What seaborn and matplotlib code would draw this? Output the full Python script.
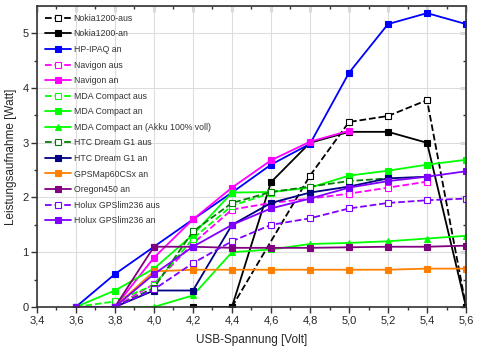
import numpy as np
import matplotlib
matplotlib.use('Agg')
import matplotlib.pyplot as plt
import seaborn as sns

sns.set_style('whitegrid')
plt.rcParams['font.family'] = ['Liberation Sans', 'DejaVu Sans']

# Messwerte: Spannung [V] und Leistungsaufnahme [W]
nokia_aus_x = [4.4, 4.8, 5.0, 5.2, 5.4, 5.6]
nokia_aus_y = [0.0, 2.4, 3.38, 3.49, 3.78, 0.0]
nokia_an_x = [4.2, 4.4, 4.6, 4.8, 5.0, 5.2, 5.4, 5.6]
nokia_an_y = [0.0, 0.0, 2.28, 3.0, 3.2, 3.2, 3.0, 0.0]
ipaq_x = [3.6, 3.8, 4.0, 4.2, 4.4, 4.6, 4.8, 5.0, 5.2, 5.4, 5.6]
ipaq_y = [0.0, 0.6, 1.1, 1.6, 2.09, 2.6, 2.98, 4.28, 5.17, 5.37, 5.17]
navigon_aus_x = [3.8, 4.0, 4.2, 4.4, 4.6, 4.8, 5.0, 5.2, 5.4]
navigon_aus_y = [0.0, 0.42, 1.16, 1.78, 1.9, 1.98, 2.07, 2.18, 2.29]
navigon_an_x = [3.8, 4.0, 4.2, 4.4, 4.6, 4.8, 5.0]
navigon_an_y = [0.0, 0.9, 1.6, 2.18, 2.68, 3.02, 3.22]
mda_aus_x = [3.6, 3.8, 4.0, 4.2, 4.4, 4.6]
mda_aus_y = [0.0, 0.1, 0.4, 1.25, 1.85, 2.08]
mda_an_x = [3.6, 3.8, 4.0, 4.2, 4.4, 4.6, 4.8, 5.0, 5.2, 5.4, 5.6]
mda_an_y = [0.0, 0.3, 0.7, 1.32, 2.09, 2.1, 2.18, 2.4, 2.49, 2.6, 2.69]
mda_akku_x = [3.8, 4.0, 4.2, 4.4, 4.6, 4.8, 5.0, 5.2, 5.4, 5.6]
mda_akku_y = [0.0, 0.0, 0.21, 1.0, 1.05, 1.15, 1.17, 1.2, 1.25, 1.3]
htc_aus_x = [3.8, 4.0, 4.2, 4.4, 4.6, 4.8, 5.0, 5.2]
htc_aus_y = [0.0, 0.35, 1.38, 1.9, 2.1, 2.2, 2.3, 2.35]
htc_an_x = [3.8, 4.0, 4.2, 4.4, 4.6, 4.8, 5.0, 5.2, 5.4]
htc_an_y = [0.0, 0.3, 0.3, 1.5, 1.9, 2.09, 2.2, 2.35, 2.38]
gps_x = [3.8, 4.0, 4.2, 4.4, 4.6, 4.8, 5.0, 5.2, 5.4, 5.6]
gps_y = [0.0, 0.65, 0.68, 0.68, 0.68, 0.68, 0.68, 0.68, 0.7, 0.7]
oregon_x = [3.8, 4.0, 4.2, 4.4, 4.6, 4.8, 5.0, 5.2, 5.4, 5.6]
oregon_y = [0.0, 1.1, 1.1, 1.08, 1.08, 1.08, 1.09, 1.1, 1.1, 1.12]
holux_aus_x = [3.8, 4.0, 4.2, 4.4, 4.6, 4.8, 5.0, 5.2, 5.4, 5.6]
holux_aus_y = [0.0, 0.32, 0.8, 1.2, 1.5, 1.62, 1.8, 1.9, 1.95, 1.98]
holux_an_x = [3.6, 3.8, 4.0, 4.2, 4.4, 4.6, 4.8, 5.0, 5.2, 5.4, 5.6]
holux_an_y = [0.0, 0.0, 0.6, 1.1, 1.5, 1.8, 1.98, 2.18, 2.3, 2.38, 2.48]

x_ticks = [3.4, 3.6, 3.8, 4.0, 4.2, 4.4, 4.6, 4.8, 5.0, 5.2, 5.4, 5.6]
y_ticks = [0, 1, 2, 3, 4, 5]

# (Name, x, y, Farbe, Linienstil, Marker, gefuellt)
series = [
    ('Nokia1200-aus', nokia_aus_x, nokia_aus_y, 'black', '--', 's', False),
    ('Nokia1200-an', nokia_an_x, nokia_an_y, 'black', '-', 's', True),
    ('HP-IPAQ an', ipaq_x, ipaq_y, '#0000ff', '-', 's', True),
    ('Navigon aus', navigon_aus_x, navigon_aus_y, '#ff00ff', '--', 's', False),
    ('Navigon an', navigon_an_x, navigon_an_y, '#ff00ff', '-', 's', True),
    ('MDA Compact aus', mda_aus_x, mda_aus_y, '#00ff00', '--', 's', False),
    ('MDA Compact an', mda_an_x, mda_an_y, '#00ff00', '-', 's', True),
    ('MDA Compact an (Akku 100% voll)', mda_akku_x, mda_akku_y, '#00ff00', '-', '^', True),
    ('HTC Dream G1 aus', htc_aus_x, htc_aus_y, '#008000', '--', 's', False),
    ('HTC Dream G1 an', htc_an_x, htc_an_y, '#000080', '-', 's', True),
    ('GPSMap60CSx an', gps_x, gps_y, '#ff8000', '-', 's', True),
    ('Oregon450 an', oregon_x, oregon_y, '#800080', '-', 's', True),
    ('Holux GPSlim236 aus', holux_aus_x, holux_aus_y, '#8000ff', '--', 's', False),
    ('Holux GPSlim236 an', holux_an_x, holux_an_y, '#8000ff', '-', 's', True),
]

fig = plt.figure(figsize=(4.79, 3.54), dpi=100)
ax = fig.add_axes([0.077, 0.133, 0.896, 0.85])

for name, xs, ys, col, ls, mk, filled in series:
    sns.lineplot(x=xs, y=ys, ax=ax, color=col, linestyle=ls, marker=mk,
                 markersize=5 if filled else 4.6, linewidth=1.3,
                 markerfacecolor=col if filled else 'white',
                 markeredgecolor=col, markeredgewidth=0.8,
                 label=name, estimator=None, sort=False)

ax.set_xlim(3.4, 5.6)
ax.set_ylim(0, 5.5)
ax.set_xticks(x_ticks)
ax.set_xticklabels([f'{v:.1f}'.replace('.', ',') for v in x_ticks], fontsize=8)
ax.set_yticks(y_ticks)
ax.set_yticklabels([str(v) for v in y_ticks], fontsize=8)
ax.set_xticks(np.arange(3.5, 5.6, 0.2), minor=True)
ax.set_yticks(np.arange(0.5, 5.5, 1.0), minor=True)
ax.grid(True, which='major', color='#dddddd', linewidth=0.8)
ax.grid(False, which='minor')
ax.tick_params(which='major', direction='out', length=4, width=1, color='#333333', pad=2,
               bottom=True, left=True)
ax.tick_params(which='minor', direction='out', length=2, width=1, color='#333333',
               bottom=True, left=True)

# gespiegelte Achsen oben/rechts mit Ticks nach innen
top = ax.secondary_xaxis('top')
top.set_xticks(x_ticks)
top.set_xticks(np.arange(3.5, 5.6, 0.2), minor=True)
top.tick_params(which='both', direction='in', labeltop=False, color='#333333', width=1)
top.tick_params(which='major', length=4)
top.tick_params(which='minor', length=2)
right = ax.secondary_yaxis('right')
right.set_yticks(y_ticks)
right.set_yticks(np.arange(0.5, 5.5, 1.0), minor=True)
right.tick_params(which='both', direction='in', labelright=False, color='#333333', width=1)
right.tick_params(which='major', length=4)
right.tick_params(which='minor', length=2)

for sp in ax.spines.values():
    sp.set_color('#333333')
    sp.set_linewidth(1.2)

ax.set_xlabel('USB-Spannung [Volt]', fontsize=8.5, labelpad=6)
ax.set_ylabel('Leistungsaufnahme [Watt]', fontsize=8.5, labelpad=4)

leg = ax.legend(loc='upper left', frameon=False, fontsize=6.3, handlelength=3.0,
                labelspacing=0.75, borderaxespad=0.5, handletextpad=0.3)
for t in leg.get_texts():
    t.set_color('#333333')

fig.savefig('out.png', dpi=100)
